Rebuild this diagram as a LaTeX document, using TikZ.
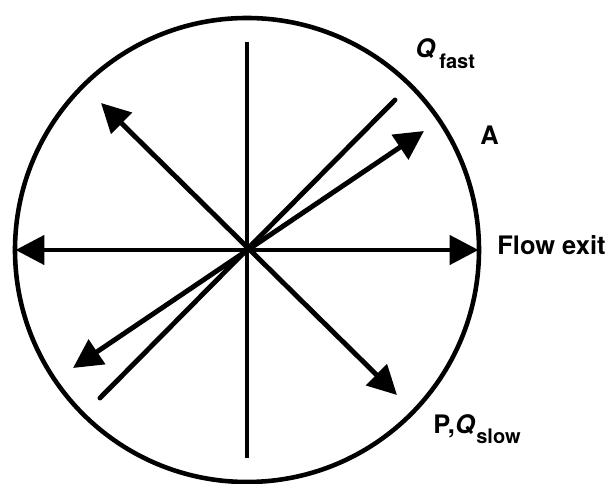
\documentclass[tikz,border=0pt]{standalone}
\usepackage{fontspec}
\setmainfont{TeX Gyre Heros}
\usepackage{tikz}
\usetikzlibrary{arrows.meta}

\begin{document}
\begin{tikzpicture}[font=\fontsize{14.5}{17}\selectfont\bfseries,
    axis/.style={line width=2.8pt},
    flowline/.style={line width=2.8pt,{Triangle[length=0.58cm,width=0.58cm]}-{Triangle[length=0.58cm,width=0.58cm]}},
    lbl/.style={anchor=base west,inner sep=0pt},
    sub/.style={lbl,font=\fontsize{11.4}{13}\selectfont\bfseries}]
        \useasboundingbox (-4.94,-4.68) rectangle (7.28,5.00);
        \draw[line width=2.6pt] (0,0) circle (4.64);
        \coordinate (vtop) at (0,4.16);
        \coordinate (vbot) at (0,-4.16);
        \coordinate (west) at (-4.63,0);
        \coordinate (exit) at (4.63,0);
        \coordinate (nw) at (-2.92,2.94);
        \coordinate (pslow) at (3.0,-2.9);
        \coordinate (qlo) at (-2.94,-2.96);
        \coordinate (qfast) at (2.96,3.0);
        \coordinate (alo) at (-3.48,-2.36);
        \coordinate (ahi) at (3.54,2.38);
        \draw[axis] (vtop) -- (vbot);
        \draw[axis,line cap=round] (qlo) -- (qfast);
        \draw[flowline] (west) -- (exit);
        \draw[flowline] (nw) -- (pslow);
        \draw[flowline] (alo) -- (ahi);
        \node[lbl] (lq) at (3.36,3.84) {\textit{Q}};
        \node[sub] (lqs) at (3.84,3.62) {fast};
        \node[lbl] (la) at (4.66,2.10) {A};
        \node[lbl] (lexit) at (5.00,-0.10) {Flow exit};
        \node[lbl] (lp) at (3.72,-3.66) {P,\textit{Q}};
        \node[sub] (lps) at (4.58,-3.86) {slow};
      \end{tikzpicture}
\end{document}
